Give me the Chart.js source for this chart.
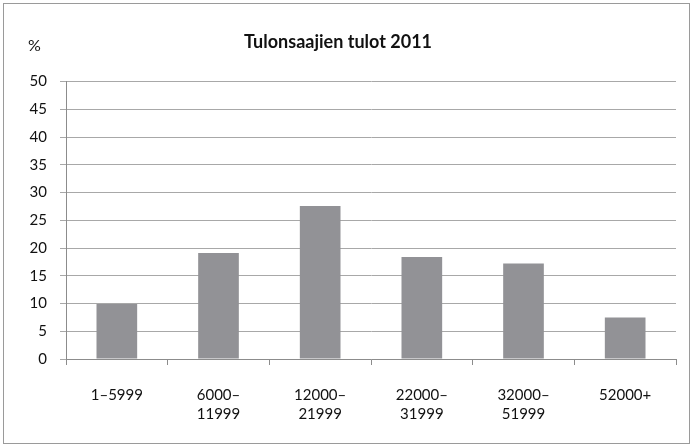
<!DOCTYPE html>
<html lang="fi">
<head>
    <meta charset="UTF-8">
    <title>Tulonsaajien tulot 2011</title>
    <script src="https://cdn.jsdelivr.net/npm/chart.js"></script>
    <style>
        html, body { margin: 0; padding: 0; background: #fff; }
        #wrap { position: relative; width: 692px; height: 447px; }
        #frame {
            position: absolute; left: 3px; top: 3px; width: 685px; height: 439px;
            border: 1px solid #9a9a9a; pointer-events: none;
        }
        #unit {
            position: absolute; left: 28px; top: 35px;
            font: 16px Lato, sans-serif; color: #111;
        }
    </style>
</head>
<body>

<div id="wrap">
    <canvas id="incomeChart" width="692" height="447"></canvas>
    <div id="frame"></div>
    <span id="unit">%</span>
</div>

<script>
    // income brackets (euros) and share of income earners, %
    const categories = [
        '1–5999',
        ['6000–', '11999'],
        ['12000–', '21999'],
        ['22000–', '31999'],
        ['32000–', '51999'],
        '52000+'
    ];
    const shares = [9.9, 19.1, 27.6, 18.4, 17.2, 7.5];
    const yTicks = [0, 5, 10, 15, 20, 25, 30, 35, 40, 45, 50];

    const ctx = document.getElementById('incomeChart').getContext('2d');
    new Chart(ctx, {
        type: 'bar',
        data: {
            labels: categories,
            datasets: [{
                data: shares,
                backgroundColor: '#929296',
                borderWidth: 0,
                barPercentage: 0.4,
                categoryPercentage: 1
            }]
        },
        options: {
            responsive: false,
            animation: false,
            layout: { padding: { left: 0, right: 16, top: 0, bottom: 0 } },
            plugins: {
                legend: { display: false },
                tooltip: { enabled: false },
                title: {
                    display: true,
                    text: 'Tulonsaajien tulot 2011',
                    color: '#111',
                    font: { family: 'Lato', size: 18, weight: 'bold' },
                    padding: { top: 31, bottom: 29 }
                }
            },
            scales: {
                x: {
                    grid: {
                        drawOnChartArea: false,
                        tickLength: 6,
                        color: '#8c8c8c'
                    },
                    border: { color: '#8c8c8c' },
                    ticks: {
                        color: '#111',
                        padding: 21,
                        maxRotation: 0,
                        font: { family: 'Lato', size: 15, lineHeight: 1.25 }
                    },
                    afterFit: scale => { scale.height = 88; }
                },
                y: {
                    min: 0,
                    max: 50,
                    afterBuildTicks: scale => {
                        scale.ticks = yTicks.map(v => ({ value: v }));
                    },
                    grid: {
                        color: '#a8a8a8',
                        tickLength: 6
                    },
                    border: { color: '#8c8c8c' },
                    ticks: {
                        color: '#111',
                        padding: 13,
                        font: { family: 'Lato', size: 15 }
                    },
                    afterFit: scale => { scale.width = 66; }
                }
            }
        }
    });
</script>

</body>
</html>
